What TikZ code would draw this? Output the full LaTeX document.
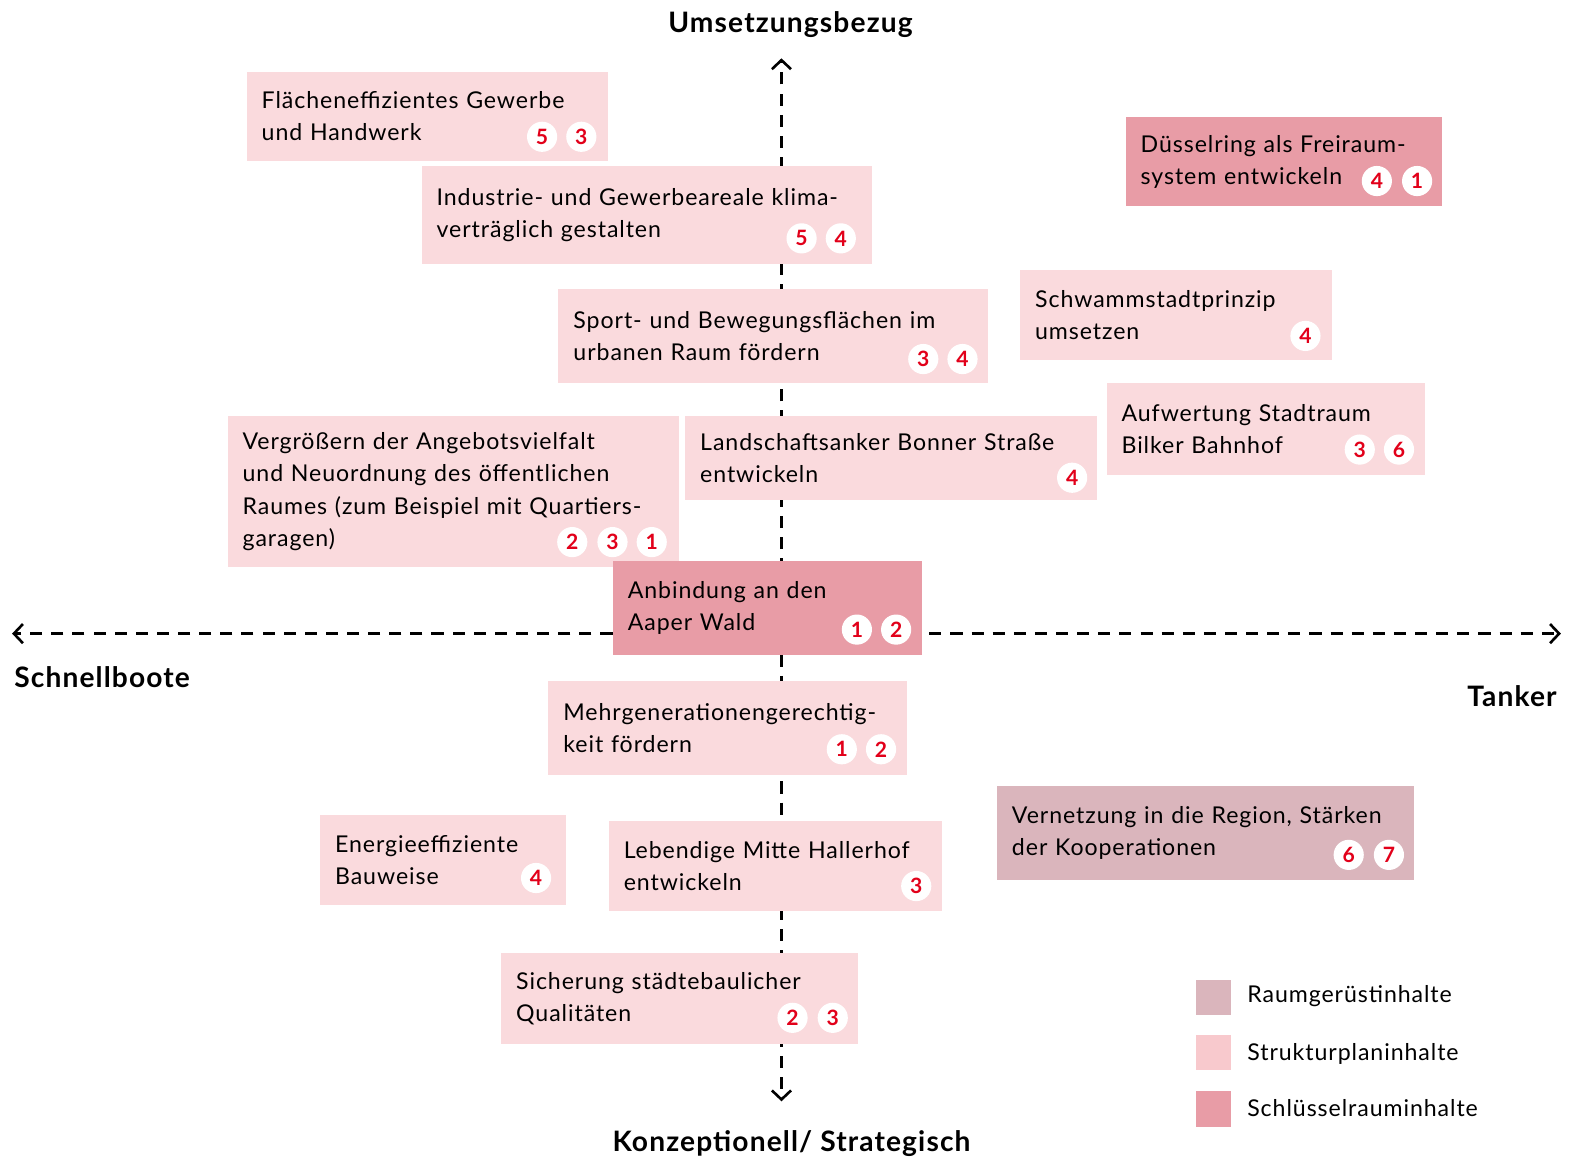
\documentclass[tikz,border=0pt]{standalone}
\usepackage{fontspec}
\setmainfont{Lato}[LetterSpace=4]
\usetikzlibrary{arrows.meta}
\definecolor{lightbox}{HTML}{FADADD}
\definecolor{keybox}{HTML}{E89CA6}
\definecolor{raumbox}{HTML}{DAB5BC}
\definecolor{legstruct}{HTML}{F8C9CD}
\definecolor{badgered}{HTML}{E2001A}
\tikzset{
  boxtext/.style={font=\fontsize{23}{32}\selectfont, align=left, anchor=north west, inner xsep=15pt, inner ysep=0pt, text=black},
  badge/.style={circle, fill=white, minimum size=30pt, inner sep=0pt, text=badgered, font=\fontsize{21}{21}\selectfont\bfseries},
  axisline/.style={line width=2.6pt, dash pattern=on 12pt off 9pt, -{Straight Barb[length=9pt,width=19pt,line width=2.6pt]}},
  axislabel/.style={font=\fontsize{28}{30}\selectfont\bfseries, inner sep=0pt},
  legsq/.style={minimum size=35pt, inner sep=0pt, anchor=north west},
  legtext/.style={font=\fontsize{23}{26}\selectfont, anchor=west, inner sep=0pt}
}
\newcommand{\mybox}[7]{%
  \pgfmathsetmacro{\bw}{#4-#2}\pgfmathsetmacro{\bh}{#5-#3}\pgfmathsetmacro{\tw}{#4-#2-30}%
  \node[boxtext, fill=#6, minimum width=\bw pt, minimum height=\bh pt, text width=\tw pt] (#1) at (#2,#3) {#7};}
\begin{document}
\begin{tikzpicture}[x=1pt,y=-1pt]
\useasboundingbox (0,0) rectangle (1568,1150);
% axes
\coordinate (vc) at (777,630);
\coordinate (vt) at (777,58);
\coordinate (vb) at (777,1095);
\coordinate (hl) at (12,630);
\coordinate (hr) at (1552,630);
\draw[axisline] (vc) -- (vt);
\draw[axisline] (vc) -- (vb);
\draw[axisline] (vc) -- (hl);
\draw[axisline] (vc) -- (hr);
\node[axislabel] (lu) at (786,24) {Umsetzungsbezug};
\node[axislabel] (lk) at (787,1137) {Konzeptionell/ Strategisch};
\node[axislabel, anchor=west] (ls) at (14,673) {Schnellboote};
\node[axislabel, anchor=east] (lt) at (1548,692) {Tanker};
% boxes
\mybox{b1}{245}{71}{604}{160}{lightbox}{Flächeneffizientes Gewerbe\\und Handwerk}
\node[badge] (b1a) at (539,136) {5};
\node[badge] (b1b) at (578,136) {3};
\mybox{b2}{419}{165}{867}{262}{lightbox}{Industrie- und Gewerbeareale klima-\\verträglich gestalten}
\node[badge] (b2a) at (797,237) {5};
\node[badge] (b2b) at (836,237) {4};
\mybox{b3}{555}{287}{982}{381}{lightbox}{Sport- und Bewegungsflächen im\\urbanen Raum fördern}
\node[badge] (b3a) at (918,357) {3};
\node[badge] (b3b) at (957,357) {4};
\mybox{b4}{226}{413}{675}{564}{lightbox}{Vergrößern der Angebotsvielfalt\\und Neuordnung des öffentlichen\\Raumes (zum Beispiel mit Quartiers-\\garagen)}
\node[badge] (b4a) at (569,539) {2};
\node[badge] (b4b) at (609,539) {3};
\node[badge] (b4c) at (648,539) {1};
\mybox{b5}{681}{413}{1091}{497}{lightbox}{Landschaftsanker Bonner Straße\\entwickeln}
\node[badge] (b5a) at (1066,475) {4};
\mybox{b6}{609}{558}{917}{651}{keybox}{Anbindung an den\\Aaper Wald}
\node[badge] (b6a) at (852,626) {1};
\node[badge] (b6b) at (891,626) {2};
\mybox{b7}{545}{677}{902}{770}{lightbox}{Mehrgenerationengerechtig-\\keit fördern}
\node[badge] (b7a) at (837,745) {1};
\node[badge] (b7b) at (876,745) {2};
\mybox{b8}{318}{810}{563}{900}{lightbox}{Energieeffiziente\\Bauweise}
\node[badge] (b8a) at (533,873) {4};
\mybox{b9}{605}{816}{936}{906}{lightbox}{Lebendige Mitte Hallerhof\\entwickeln}
\node[badge] (b9a) at (911,881) {3};
\mybox{b10}{498}{947}{853}{1038}{lightbox}{Sicherung städtebaulicher\\Qualitäten}
\node[badge] (b10a) at (788,1012) {2};
\node[badge] (b10b) at (828,1012) {3};
\mybox{b11}{1119}{116}{1434}{205}{keybox}{Düsselring als Freiraum-\\system entwickeln}
\node[badge] (b11a) at (1369,180) {4};
\node[badge] (b11b) at (1409,180) {1};
\mybox{b12}{1014}{268}{1324}{358}{lightbox}{Schwammstadtprinzip\\umsetzen}
\node[badge] (b12a) at (1298,334) {4};
\mybox{b13}{1100}{381}{1417}{472}{lightbox}{Aufwertung Stadtraum\\Bilker Bahnhof}
\node[badge] (b13a) at (1352,447) {3};
\node[badge] (b13b) at (1391,447) {6};
\mybox{b14}{991}{781}{1406}{875}{raumbox}{Vernetzung in die Region, Stärken\\der Kooperationen}
\node[badge] (b14a) at (1341,850) {6};
\node[badge] (b14b) at (1381,850) {7};
% legend
\node[legsq, fill=raumbox] (q1) at (1189,974) {};
\node[legsq, fill=legstruct] (q2) at (1189,1029) {};
\node[legsq, fill=keybox] (q3) at (1189,1085) {};
\node[legtext] (t1) at (1240,990) {Raumgerüstinhalte};
\node[legtext] (t2) at (1240,1048) {Strukturplaninhalte};
\node[legtext] (t3) at (1240,1102) {Schlüsselrauminhalte};
\end{tikzpicture}
\end{document}
